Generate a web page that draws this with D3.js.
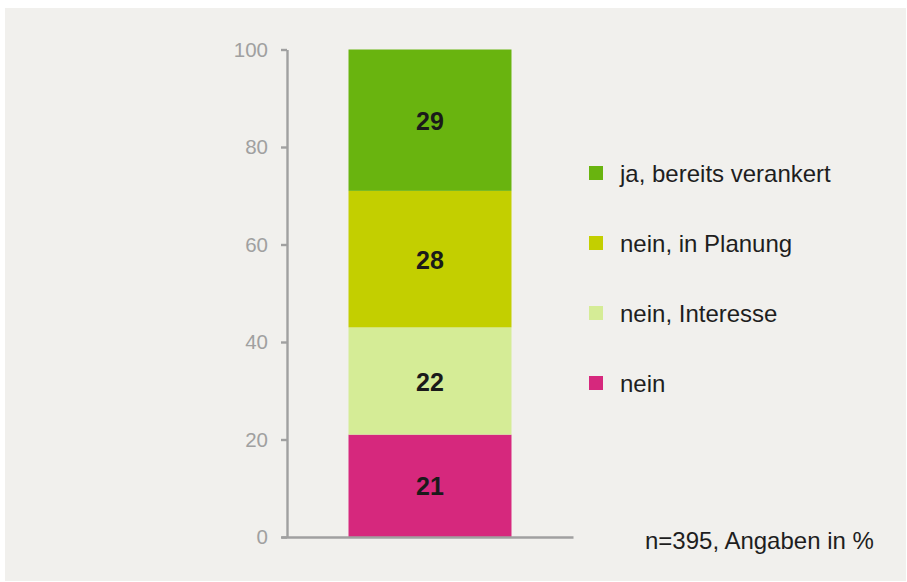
<!DOCTYPE html>
<html>
<head>
<meta charset="utf-8">
<script src="https://cdn.jsdelivr.net/npm/d3@7"></script>
<style>
  html, body { margin: 0; padding: 0; background: #ffffff; }
  svg { display: block; font-family: "Liberation Sans", Arial, sans-serif; }
</style>
</head>
<body>
<svg id="chart" width="907" height="582"></svg>
<script>
// ---- data ----
const categories = ["Gesamt"];
const seriesNames = ["nein", "nein, Interesse", "nein, in Planung", "ja, bereits verankert"];
const seriesValues = [21, 22, 28, 29];
const seriesColors = ["#d6287d", "#d5ec96", "#c3cf00", "#69b40f"];
const yTicks = [0, 20, 40, 60, 80, 100];
const legendOrder = ["ja, bereits verankert", "nein, in Planung", "nein, Interesse", "nein"];
const noteText = "n=395, Angaben in %";

// ---- layout ----
const svg = d3.select("#chart");
svg.append("rect").attr("x", 5).attr("y", 8).attr("width", 901).attr("height", 573).attr("fill", "#f1f0ed");

const axisColor = "#a0a0a0";
const y = d3.scaleLinear().domain([0, 100]).range([537, 49.5]);
const x = d3.scaleBand().domain(categories).range([287, 573]).padding(0.274);
const color = d3.scaleOrdinal().domain(seriesNames).range(seriesColors);

// stacked data
const row = {};
seriesNames.forEach((n, i) => row[n] = seriesValues[i]);
const stacked = d3.stack().keys(seriesNames)([Object.assign({cat: categories[0]}, row)]);

// y axis
const yAxis = svg.append("g").attr("transform", "translate(287,0)")
  .call(d3.axisLeft(y).tickValues(yTicks).tickSize(6).tickPadding(13).tickSizeOuter(0));
yAxis.select(".domain").attr("stroke", axisColor).attr("stroke-width", 2.4);
yAxis.selectAll(".tick line").attr("stroke", axisColor).attr("stroke-width", 2.4);
yAxis.selectAll(".tick text").attr("fill", "#a0a0a0").attr("font-size", 20.5)
  .attr("font-family", "'Liberation Sans', Arial, sans-serif").attr("dy", "0.34em");

// bars
const groups = svg.append("g").selectAll("g").data(stacked).join("g")
  .attr("fill", d => color(d.key));
groups.selectAll("rect").data(d => d).join("rect")
  .attr("x", d => x(d.data.cat))
  .attr("width", x.bandwidth())
  .attr("y", d => y(d[1]))
  .attr("height", d => y(d[0]) - y(d[1]));

// bar labels
svg.append("g").selectAll("text").data(stacked).join("text")
  .attr("x", x(categories[0]) + x.bandwidth() / 2)
  .attr("y", d => (y(d[0][0]) + y(d[0][1])) / 2 + 9.5)
  .attr("text-anchor", "middle")
  .attr("font-size", 25).attr("font-weight", "bold").attr("fill", "#1a1a1a")
  .text(d => d[0][1] - d[0][0]);

// x axis
const xAxis = svg.append("g").attr("transform", "translate(0,537)")
  .call(d3.axisBottom(d3.scaleLinear().domain([0, 1]).range([281, 573])).tickValues([]).tickSizeOuter(0));
xAxis.select(".domain").attr("stroke", axisColor).attr("stroke-width", 2.4);

// legend
const legend = svg.append("g").selectAll("g").data(legendOrder).join("g")
  .attr("transform", (d, i) => `translate(589,${173 + i * 70})`);
legend.append("rect").attr("x", 0).attr("y", -7).attr("width", 14).attr("height", 14)
  .attr("fill", d => color(d));
legend.append("text").attr("x", 31).attr("y", 8.5)
  .attr("font-size", 24).attr("fill", "#1e1e1e").text(d => d);

// note
svg.append("text").attr("x", 645).attr("y", 549).attr("font-size", 24).attr("fill", "#1e1e1e").text(noteText);
</script>
</body>
</html>
